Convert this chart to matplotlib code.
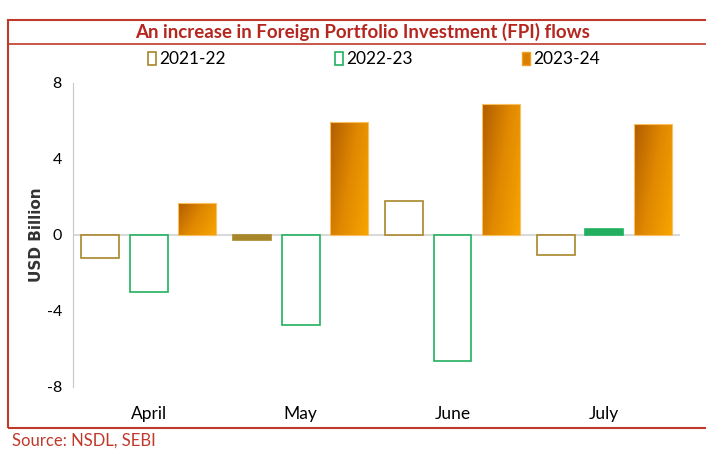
# FPI flows chart: monthly values for three fiscal years

import numpy as np
import matplotlib.pyplot as plt
from matplotlib.patches import Rectangle
from matplotlib.lines import Line2D
from matplotlib.colors import LinearSegmentedColormap

plt.rcParams['font.family'] = ['Lato', 'DejaVu Sans']
plt.rcParams['axes.unicode_minus'] = False

# Data (USD billion)
months = ['April', 'May', 'June', 'July']
series = ['2021-22', '2022-23', '2023-24']
fy22 = [-1.2, -0.25, 1.8, -1.05]
fy23 = [-3.0, -4.75, -6.65, 0.3]
fy24 = [1.7, 5.95, 6.9, 5.85]

red = '#C0392B'
gold = '#A8862A'
green = '#22B060'
orange_cmap = LinearSegmentedColormap.from_list('org', ['#B05C00', '#E08800', '#F8A400'])

fig = plt.figure(figsize=(7.06, 4.5), dpi=100)
ax = fig.add_axes([0.1034, 0.14, 0.86, 0.6756])

x = np.arange(len(months))
w = 0.25
off = 0.32

# hollow bars, filled when too thin to see the outline
for vals, col, dx in [(fy22, gold, -off), (fy23, green, 0)]:
    for xi, v in zip(x, vals):
        fc = col if abs(v) < 0.5 else 'white'
        ax.bar(xi + dx, v, w, facecolor=fc, edgecolor=col, linewidth=1.2, zorder=3)

# gradient orange bars (dark top-left to light bottom-right)
gx = np.linspace(0, 1, 64)
grad = 0.65 * gx[None, :] + 0.35 * gx[:, None]
for xi, v in zip(x, fy24):
    b = ax.bar(xi + off, v, w, facecolor='none', edgecolor='#F9C060', linewidth=0.8, zorder=4)[0]
    im = ax.imshow(grad, cmap=orange_cmap, aspect='auto', zorder=3,
                   extent=[xi + off - w / 2, xi + off + w / 2, min(v, 0), max(v, 0)])
    im.set_clip_path(b)

ax.axhline(0, color='#D9D9D9', lw=1.5, zorder=2)
ax.set_xlim(-0.5, 3.5)
ax.set_ylim(-8, 8)
ax.set_yticks([-8, -4, 0, 4, 8])
ax.set_xticks(x)
ax.set_xticklabels(months, fontsize=12.5)
ax.tick_params(axis='x', length=0, pad=14)
ax.tick_params(axis='y', length=0, labelsize=11.5, pad=8)
for s in ['top', 'right', 'bottom']:
    ax.spines[s].set_visible(False)
ax.spines['left'].set_color('#C8C8C8')
ax.set_ylabel('USD Billion', fontsize=11, fontweight='bold', family='DejaVu Sans',
              labelpad=2, color='#333333')

# legend
handles = [Rectangle((0, 0), 1, 1, facecolor='white', edgecolor=gold, lw=1.2),
           Rectangle((0, 0), 1, 1, facecolor='white', edgecolor=green, lw=1.2),
           Rectangle((0, 0), 1, 1, facecolor='#D98000', edgecolor='#F0A020', lw=1.0)]
fig.legend(handles, series, loc='center', bbox_to_anchor=(0.53, 0.868), ncol=3,
           frameon=False, fontsize=12.5, handlelength=0.45, handleheight=0.8,
           handletextpad=0.2, columnspacing=6.3)

# frame and title
fig.patches.append(Rectangle((0.0115, 0.049), 1.0, 0.906, transform=fig.transFigure,
                             fill=False, edgecolor=red, lw=1.5))
fig.lines.append(Line2D([0.0115, 1.0], [0.902, 0.902], transform=fig.transFigure,
                        color=red, lw=1.2))
fig.text(0.514, 0.928, 'An increase in Foreign Portfolio Investment (FPI) flows',
         ha='center', va='center', fontsize=13.5, fontweight='bold', color='#B5261E')
fig.text(0.017, 0.02, 'Source: NSDL, SEBI', ha='left', va='center', fontsize=12, color=red)

plt.savefig('out.png', dpi=100)
